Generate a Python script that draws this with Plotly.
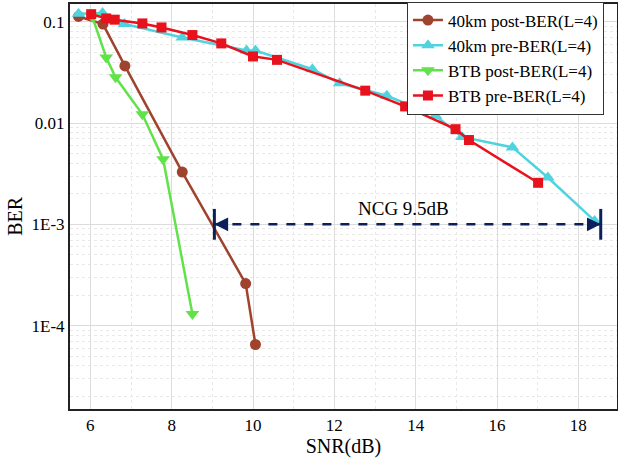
import plotly.graph_objects as go

# 40km post-BER (L=4)
snr_40_post = [5.71, 6.31, 6.85, 8.26, 9.82, 10.06]
ber_40_post = [0.113, 0.095, 0.0367, 0.00328, 2.6e-4, 6.5e-5]

# 40km pre-BER (L=4)
snr_40_pre = [5.71, 6.30, 6.84, 8.26, 9.84, 10.06, 11.46, 12.13, 13.29, 14.49, 15.14, 16.38, 17.25, 18.40]
ber_40_pre = [0.12, 0.122, 0.095, 0.070, 0.052, 0.052, 0.034, 0.0247, 0.0186, 0.0118, 0.0073, 0.00575, 0.0029, 0.00108]

# BTB post-BER (L=4)
snr_btb_post = [6.05, 6.39, 6.62, 7.28, 7.79, 8.51]
ber_btb_post = [0.112, 0.0445, 0.0283, 0.0122, 0.0044, 1.3e-4]

# BTB pre-BER (L=4)
snr_btb_pre = [6.02, 6.39, 6.60, 7.28, 7.75, 8.51, 9.22, 10.00, 10.59, 12.76, 13.74, 14.98, 15.31, 17.01]
ber_btb_pre = [0.119, 0.108, 0.105, 0.0964, 0.088, 0.074, 0.0612, 0.0455, 0.0421, 0.0209, 0.0146, 0.0087, 0.0068, 0.00257]

# NCG annotation
ncg_snr = [9.05, 18.55]
ncg_ber = [1e-3, 1e-3]
ncg_label = "NCG 9.5dB"
ncg_label_snr = 13.7

x_ticks = [6, 8, 10, 12, 14, 16, 18]
y_tickvals = [1e-4, 1e-3, 0.01, 0.1]
y_ticktext = ["1E-4", "1E-3", "0.01", "0.1"]

FONT = "Liberation Serif"
C_BROWN = "#A0432E"
C_CYAN = "#4FD3DE"
C_GREEN = "#62E24A"
C_RED = "#E8121C"
C_NAVY = "#0B1F5C"

fig = go.Figure()
fig.add_trace(go.Scatter(x=snr_40_post, y=ber_40_post, mode="lines+markers",
                         name="40km post-BER(L=4)",
                         line=dict(color=C_BROWN, width=2.5),
                         marker=dict(symbol="circle", size=11, color=C_BROWN)))
fig.add_trace(go.Scatter(x=snr_40_pre, y=ber_40_pre, mode="lines+markers",
                         name="40km pre-BER(L=4)",
                         line=dict(color=C_CYAN, width=2.5),
                         marker=dict(symbol="triangle-up", size=12, color=C_CYAN)))
fig.add_trace(go.Scatter(x=snr_btb_post, y=ber_btb_post, mode="lines+markers",
                         name="BTB post-BER(L=4)",
                         line=dict(color=C_GREEN, width=2.5),
                         marker=dict(symbol="triangle-down", size=12, color=C_GREEN)))
fig.add_trace(go.Scatter(x=snr_btb_pre, y=ber_btb_pre, mode="lines+markers",
                         name="BTB pre-BER(L=4)",
                         line=dict(color=C_RED, width=2.5),
                         marker=dict(symbol="square", size=10, color=C_RED)))

# NCG dashed line with end bars
fig.add_trace(go.Scatter(x=ncg_snr, y=ncg_ber, mode="lines+markers", showlegend=False,
                         line=dict(color=C_NAVY, width=2.5, dash="dash"),
                         marker=dict(symbol="line-ns", size=22, color=C_NAVY,
                                     line=dict(width=3, color=C_NAVY)),
                         hoverinfo="skip"))
# arrowheads (annotation coordinates on log axis are log10 values)
fig.add_annotation(x=ncg_snr[0], y=-3, ax=10, ay=0, text="", showarrow=True,
                   arrowhead=2, arrowsize=1.1, arrowwidth=2.5, arrowcolor=C_NAVY)
fig.add_annotation(x=ncg_snr[1], y=-3, ax=-10, ay=0, text="", showarrow=True,
                   arrowhead=2, arrowsize=1.1, arrowwidth=2.5, arrowcolor=C_NAVY)

fig.add_annotation(x=ncg_label_snr, y=-3, text=ncg_label,
                   showarrow=False, yanchor="bottom", yshift=3,
                   font=dict(family=FONT, size=19, color="black"))

# y axis title placed as text
fig.add_annotation(xref="paper", yref="paper", x=-0.101, y=0.4765, text="BER",
                   textangle=-90, showarrow=False, xanchor="center", yanchor="middle",
                   font=dict(family=FONT, size=20, color="black"))

minor_y = [k * 10.0 ** e for e in range(-5, 0) for k in range(2, 10)]

fig.update_layout(
    width=618, height=459,
    margin=dict(l=70, r=1, t=4, b=50, autoexpand=False),
    paper_bgcolor="white", plot_bgcolor="white",
    font=dict(family=FONT, size=17, color="black"),
    showlegend=True,
    legend=dict(x=0.616, y=1.006, xanchor="left", yanchor="top",
                bgcolor="white", bordercolor="#333333", borderwidth=1,
                font=dict(family=FONT, size=17, color="black"),
                tracegroupgap=0, itemwidth=30),
)
fig.update_xaxes(
    range=[5.5, 18.95], tickvals=x_ticks, ticks="", automargin=False,
    showgrid=True, gridcolor="#DCDCDC", gridwidth=1,
    minor=dict(dtick=1, tick0=5, showgrid=True, gridcolor="#E8E8E8", griddash="dot"),
    showline=True, linecolor="#222222", linewidth=2, mirror=True,
    title=dict(text="SNR(dB)", font=dict(family=FONT, size=20), standoff=2),
    tickfont=dict(family=FONT, size=17), zeroline=False,
)
fig.update_yaxes(
    type="log", range=[-4.824, -0.824], automargin=False,
    tickvals=y_tickvals, ticktext=y_ticktext, ticks="",
    showgrid=True, gridcolor="#DCDCDC", gridwidth=1,
    minor=dict(tickvals=minor_y, showgrid=True, gridcolor="#E8E8E8", griddash="dot"),
    showline=True, linecolor="#222222", linewidth=2, mirror=True,
    tickfont=dict(family=FONT, size=17), zeroline=False,
)

fig.write_html("out.html", config={"displayModeBar": False},
               post_script="document.body.style.margin='0';document.body.style.padding='0';")
